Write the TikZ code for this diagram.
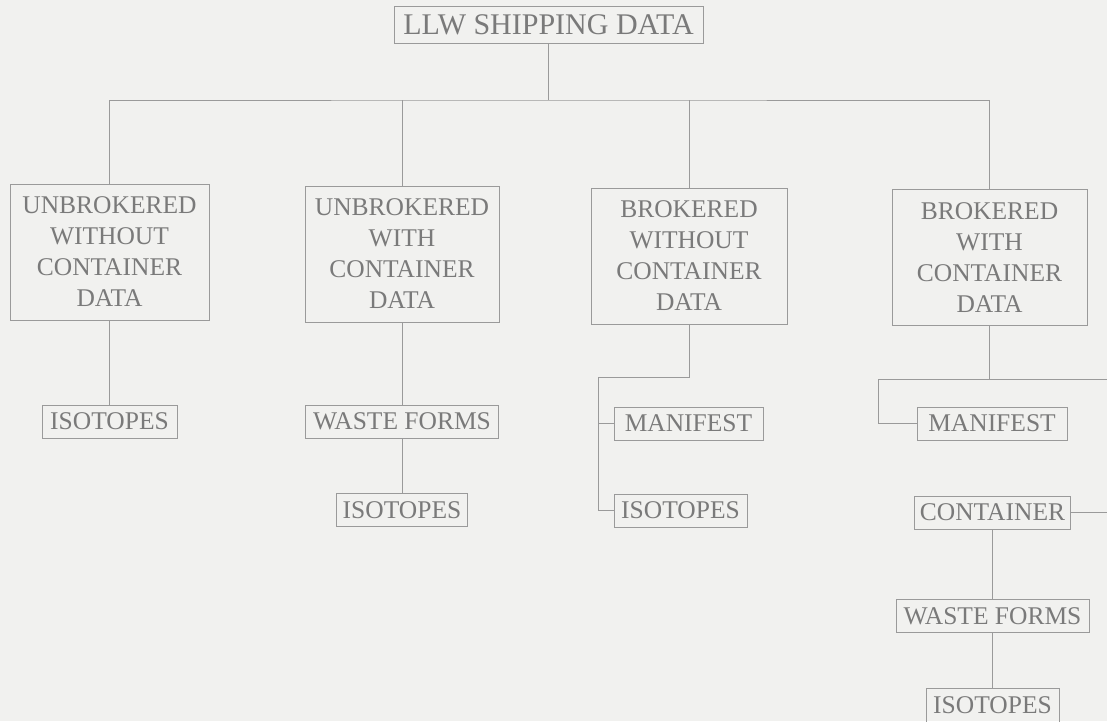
\documentclass[tikz,border=0pt]{standalone}
\usepackage{fontspec}
\setmainfont{Liberation Serif}
\definecolor{bgc}{HTML}{F1F1EF}
\definecolor{linec}{HTML}{9A9A9A}
\definecolor{textc}{HTML}{7A7A7A}
\begin{document}
\begin{tikzpicture}[x=1pt,y=-1pt,
  box/.style={draw=linec,line width=0.8pt,text=textc,inner sep=0pt,align=center,
    font=\fontsize{25.5}{31}\selectfont},
  bigbox/.style={box,minimum width=#1,minimum height=136},
  smallbox/.style={box,minimum width=#1,minimum height=33},
  conn/.style={draw=linec,line width=0.8pt}]
\fill[bgc] (0,0) rectangle (1107,721);
\useasboundingbox (0,0) rectangle (1107,721);

\node[box,minimum width=309,minimum height=37,font=\fontsize{30}{36}\selectfont] (top) at (548.5,24.5) {LLW SHIPPING DATA};

\node[bigbox=199] (b1) at (109.5,252) {UNBROKERED\\WITHOUT\\CONTAINER\\DATA};
\node[bigbox=194] (b2) at (402,254) {UNBROKERED\\WITH\\CONTAINER\\DATA};
\node[bigbox=196] (b3) at (689,256) {BROKERED\\WITHOUT\\CONTAINER\\DATA};
\node[bigbox=195] (b4) at (989.5,257.5) {BROKERED\\WITH\\CONTAINER\\DATA};

\node[smallbox=135] (i1) at (109.5,421.5) {ISOTOPES};
\node[smallbox=193] (w2) at (402,421.5) {WASTE FORMS};
\node[smallbox=131] (i2) at (402,510) {ISOTOPES};
\node[smallbox=149] (m3) at (688.5,423.5) {MANIFEST};
\node[smallbox=133] (i3) at (680.5,510.5) {ISOTOPES};
\node[smallbox=150] (m4) at (992,423.5) {MANIFEST};
\node[smallbox=156] (c4) at (992.5,512.5) {CONTAINER};
\node[smallbox=193] (w4) at (992.5,616) {WASTE FORMS};
\node[smallbox=133,minimum height=34] (i4) at (992.5,705) {ISOTOPES};

\coordinate (bj) at (548.5,100);
\coordinate (k3) at (598,377);
\coordinate (k4) at (878,379);
\coordinate (e4) at (1107,379);
\coordinate (e5) at (1107,512.5);

\draw[conn] (top.south) -- (bj);
\draw[conn] (b1.north) |- (bj) -| (b4.north);
\draw[conn] (b2.north) -- (b2.north |- bj);
\draw[conn] (b3.north) -- (b3.north |- bj);

\draw[conn] (b1.south) -- (i1.north);
\draw[conn] (b2.south) -- (w2.north);
\draw[conn] (w2.south) -- (i2.north);

\draw[conn] (b3.south) |- (k3) |- (i3.west);
\draw[conn] (k3 |- m3.west) -- (m3.west);

\draw[conn] (b4.south) -- (b4.south |- k4);
\draw[conn] (k4) -- (e4);
\draw[conn] (k4) |- (m4.west);
\draw[conn] (c4.east) -- (e5);
\draw[conn] (c4.south) -- (w4.north);
\draw[conn] (w4.south) -- (i4.north);
\end{tikzpicture}
\end{document}
